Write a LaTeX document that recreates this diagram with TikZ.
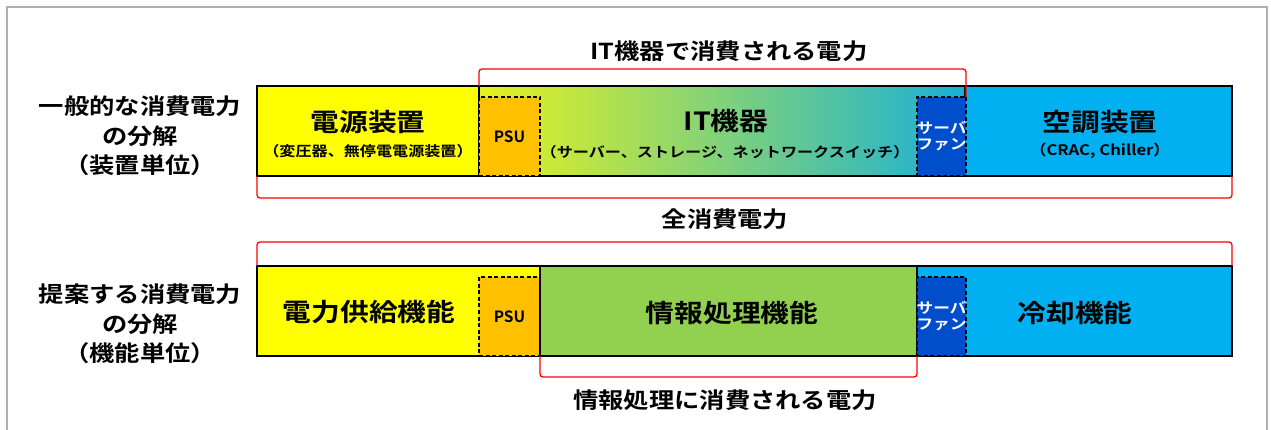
\documentclass[tikz,border=0pt]{standalone}
\usepackage{fontspec}
\setmainfont{Noto Sans CJK JP}[BoldFont={Noto Sans CJK JP Bold}]
\newcommand\sx[1]{\scalebox{1.15}[1]{#1}}
\definecolor{ylw}{RGB}{255,255,0}
\definecolor{psuo}{RGB}{255,192,0}
\definecolor{greenb}{RGB}{146,208,80}
\definecolor{cyanb}{RGB}{0,176,240}
\definecolor{fanb}{RGB}{0,78,204}
\definecolor{gradL}{RGB}{232,242,30}
\definecolor{gradM}{RGB}{140,208,90}
\definecolor{gradR}{RGB}{25,176,215}
\definecolor{frame}{RGB}{175,175,175}
\begin{document}
\begin{tikzpicture}[x=1pt,y=-1pt,
  seg/.style={draw=black, line width=1.5pt, inner sep=0pt, outer sep=0pt, anchor=north west, minimum height=90pt},
  sub/.style={draw=black, dash pattern=on 4pt off 2.5pt, line width=1.2pt, inner sep=0pt, outer sep=0pt, anchor=north west, minimum height=79pt},
  brk/.style={draw=red, line width=1.3pt, rounded corners=3pt},
  lbl/.style={font=\bfseries\fontsize{22}{29.5}\selectfont, align=center, inner sep=0pt},
  big/.style={font=\bfseries\fontsize{25}{28}\selectfont, inner sep=0pt},
  small/.style={font=\bfseries\fontsize{14}{15}\selectfont, inner sep=0pt},
  psut/.style={font=\bfseries\fontsize{15.5}{17}\selectfont, inner sep=0pt},
  fan/.style={font=\bfseries\fontsize{14.5}{16}\selectfont, text=white, align=center, inner sep=0pt}]
\useasboundingbox (0,0) rectangle (1271,430);
\fill[white] (0,0) rectangle (1271,430);
\draw[frame, line width=2pt] (7,432) -- (7,7) -- (1267,7) -- (1267,432);

% row 1
\node[seg, fill=ylw, minimum width=222pt] (r1a) at (257,86) {};
\node[seg, left color=gradL, middle color=gradM, right color=gradR, minimum width=486pt] (r1b) at (479,86) {};
\node[seg, fill=cyanb, minimum width=267pt] (r1c) at (965,86) {};
\node[sub, fill=psuo, minimum width=61pt] (psu1) at (479,97) {};
\node[sub, fill=fanb, minimum width=49pt] (fan1) at (917,97) {};

% row 2
\node[seg, fill=ylw, minimum width=283pt] (r2a) at (257,266) {};
\node[sub, fill=psuo, minimum width=61pt] (psu2) at (479,277) {};
\node[seg, fill=greenb, minimum width=377pt] (r2b) at (540,266) {};
\node[seg, fill=cyanb, minimum width=315pt] (r2c) at (917,266) {};
\node[sub, fill=fanb, minimum width=49pt] (fan2) at (917,277) {};

% brackets
\draw[brk] (r1b.north west) -- ++(0,-17) -| (fan1.north east);
\draw[brk] (r1a.south west) -- ++(0,22) -| (r1c.south east);
\draw[brk] (r2a.north west) -- ++(0,-24) -| (r2c.north east);
\draw[brk] (r2b.south west) -- ++(0,21) -| (r2b.south east);

% left labels
\node[lbl] (l1) at (140,136) {\sx{一般的な消費電力}\\\sx{の分解}\\\sx{（装置単位）}};
\node[lbl] (l2) at (140,324) {\sx{提案する消費電力}\\\sx{の分解}\\\sx{（機能単位）}};

% bracket labels
\node[lbl] (b1) at (729,51) {\sx{IT機器で消費される電力}};
\node[lbl] (b2) at (725,219) {\sx{全消費電力}};
\node[lbl] (b3) at (725,400) {\sx{情報処理に消費される電力}};

% box labels row 1
\node[big] (t1) at (368,122) {\sx{電源装置}};
\node[small] (s1) at (368,151) {\sx{（変圧器、無停電電源装置）}};
\node[psut] (p1) at (psu1.center) {PSU};
\node[big] (t2) at (726,121) {\sx{IT機器}};
\node[small] (s2) at (725,152) {\sx{（サーバー、ストレージ、ネットワークスイッチ）}};
\node[fan] (f1) at (fan1.center) {\sx{サーバ}\\\sx{ファン}};
\node[big] (t3) at (1100,122) {\sx{空調装置}};
\node[small, font=\bfseries\fontsize{14.5}{16}\selectfont] (s3) at (1100,151) {\sx{（CRAC, Chiller）}};

% box labels row 2
\node[big] (t4) at (369,312) {\sx{電力供給機能}};
\node[psut] (p2) at (psu2.center) {PSU};
\node[big] (t5) at (732,313) {\sx{情報処理機能}};
\node[fan] (f2) at (fan2.center) {\sx{サーバ}\\\sx{ファン}};
\node[big] (t6) at (1075,313) {\sx{冷却機能}};
\end{tikzpicture}
\end{document}
